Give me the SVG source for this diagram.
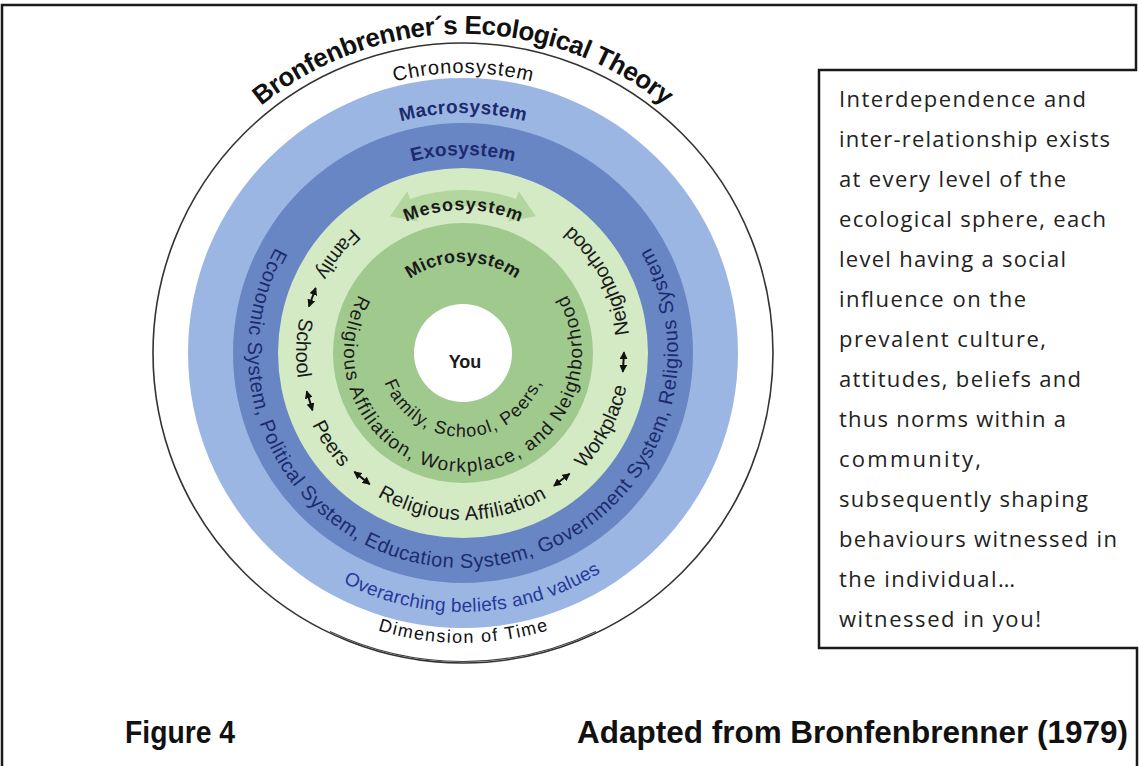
<svg xmlns="http://www.w3.org/2000/svg" width="1139" height="766" viewBox="0 0 1139 766">
<style>
.d{font-family:"Liberation Sans",Arial,sans-serif}
.b{font-weight:bold}
.navy{fill:#1c2b6e}
.blk{fill:#1a1a1a}
.box{font-family:"Open Sans","Noto Sans",sans-serif;font-size:22px;fill:#222}
.foot{font-family:"Liberation Sans",Arial,sans-serif;font-weight:bold;font-size:31px;fill:#111}
.conn{stroke:#111;stroke-width:2;fill:none;marker-start:url(#ah);marker-end:url(#ah)}
</style>
<defs>
<path id="p-title" d="M186.7,193.5 A319,319 0 0 1 739.3,193.5"/>
<path id="p-chrono" d="M220.5,213 A280,280 0 0 1 705.5,213"/>
<path id="p-macro" d="M255.2,233 A240,240 0 0 1 670.8,233"/>
<path id="p-exolbl" d="M291.5,254 A198,198 0 0 1 634.5,254"/>
<path id="p-mesolbl" d="M339.2,281.5 A143,143 0 0 1 586.8,281.5"/>
<path id="p-microlbl" d="M384.2,307.5 A91,91 0 0 1 541.8,307.5"/>
<path id="p-time" d="M211.9,498 A290,290 0 0 0 714.1,498"/>
<path id="p-over" d="M238.7,482.5 A259,259 0 0 0 687.3,482.5"/>
<path id="p-exo" d="M286.9,229.7 A215,215 0 1 0 639.1,229.7"/>
<path id="p-meso" d="M379.5,208.4 A167,167 0 1 0 546.5,208.4"/>
<path id="p-micro1" d="M365.5,284.7 A119,119 0 1 0 560.5,284.7"/>
<path id="p-micro2" d="M380.3,367.6 A84,84 0 0 0 545.7,367.6"/>
<marker id="ah" viewBox="0 0 8 8" refX="7" refY="4" markerWidth="8" markerHeight="8" markerUnits="userSpaceOnUse" orient="auto-start-reverse"><path d="M0,0 L8,4 L0,8 Z" fill="#111"/></marker>
</defs>
<rect width="1139" height="766" fill="#fff"/>
<g id="page-frame" fill="none" stroke="#1a1a1a">
<path d="M2,766 V5 H1136 V70 H819 V648 H1137 V766" stroke-width="2.5"/>
</g>
<g id="chronosystem">
<circle cx="463" cy="353" r="310" fill="#fff" stroke="#333" stroke-width="1.6"/>
<path d="M330,630 A310,310 0 0 0 596,630" fill="none" stroke="#444" stroke-width="1.2" transform="translate(0,1.5)"/>
<text class="d" font-size="20" fill="#111"><textPath href="#p-chrono" startOffset="50%" text-anchor="middle" textLength="139">Chronosystem</textPath></text>
<text class="d" font-size="18" fill="#111"><textPath href="#p-time" startOffset="50%" text-anchor="middle" textLength="173">Dimension of Time</textPath></text>
</g>
<g id="title">
<text class="d b" font-size="26" fill="#111"><textPath href="#p-title" startOffset="50%" text-anchor="middle" textLength="437">Bronfenbrenner´s Ecological Theory</textPath></text>
</g>
<g id="macrosystem">
<circle cx="463" cy="353" r="275" fill="#9cb6e3"/>
<text class="d b navy" font-size="19"><textPath href="#p-macro" startOffset="50%" text-anchor="middle" textLength="126">Macrosystem</textPath></text>
<text class="d" font-size="19" fill="#26399a"><textPath href="#p-over" startOffset="281.4" text-anchor="middle" textLength="270">Overarching beliefs and values</textPath></text>
</g>
<g id="exosystem">
<circle cx="463" cy="353" r="230" fill="#6885c4"/>
<text class="d b navy" font-size="19"><textPath href="#p-exolbl" startOffset="50%" text-anchor="middle" textLength="103">Exosystem</textPath></text>
<text class="d navy" font-size="20"><textPath href="#p-exo" startOffset="50%" text-anchor="middle" textLength="896">Economic System, Political System, Education System, Government System, Religious System</textPath></text>
</g>
<g id="mesosystem">
<circle cx="463" cy="353" r="185" fill="#d3eac4"/>
<path d="M409.9,198.9 A163,163 0 0 1 516.1,198.9 L518.7,191.3 L535.8,216.2 L508.3,221.6 L510.9,214 A147,147 0 0 0 415.1,214 L417.7,221.6 L390.2,216.2 L407.3,191.3 Z" fill="#b2d69e"/>
<text class="d b blk" font-size="18"><textPath href="#p-mesolbl" startOffset="50%" text-anchor="middle" textLength="117">Mesosystem</textPath></text>
<g class="d blk" font-size="20">
<text><textPath href="#p-meso" startOffset="63.2" text-anchor="middle">Family</textPath></text>
<text><textPath href="#p-meso" startOffset="169.6" text-anchor="middle">School</textPath></text>
<text><textPath href="#p-meso" startOffset="274.9" text-anchor="middle">Peers</textPath></text>
<text><textPath href="#p-meso" startOffset="436" text-anchor="middle" textLength="178">Religious Affiliation</textPath></text>
<text><textPath href="#p-meso" startOffset="618.2" text-anchor="middle">Workplace</textPath></text>
<text><textPath href="#p-meso" startOffset="780.9" text-anchor="middle">Neighborhood</textPath></text>
</g>
</g>
<g id="connectors">
<path class="conn" d="M315.7,288 L308.9,306.5"/>
<path class="conn" d="M306.7,391.4 L312.5,410.2"/>
<path class="conn" d="M354.4,471.9 L369.7,484.2"/>
<path class="conn" d="M554,485.8 L569.5,473.8"/>
<path class="conn" d="M622.9,371.8 L624,352.2"/>
</g>
<g id="microsystem">
<circle cx="463" cy="353" r="130" fill="#a0c98e"/>
<text class="d b blk" font-size="18"><textPath href="#p-microlbl" startOffset="50%" text-anchor="middle" textLength="113">Microsystem</textPath></text>
<text class="d blk" font-size="19"><textPath href="#p-micro1" startOffset="50%" text-anchor="middle" textLength="495">Religious Affiliation, Workplace, and Neighborhood</textPath></text>
<text class="d blk" font-size="18"><textPath href="#p-micro2" startOffset="50%" text-anchor="middle" textLength="203">Family, School, Peers,</textPath></text>
</g>
<g id="you">
<circle cx="463" cy="353" r="49" fill="#fff"/>
<text class="d b blk" font-size="18" x="465" y="368" text-anchor="middle">You</text>
</g>
<g id="textbox" class="box">
<text x="839" y="106.7" textLength="247">Interdependence and</text>
<text x="839" y="146.7" textLength="271">inter-relationship exists</text>
<text x="839" y="186.7" textLength="227">at every level of the</text>
<text x="839" y="226.7" textLength="267">ecological sphere, each</text>
<text x="839" y="266.7" textLength="227">level having a social</text>
<text x="839" y="306.7" textLength="187">influence on the</text>
<text x="839" y="346.7" textLength="207">prevalent culture,</text>
<text x="839" y="386.7" textLength="242">attitudes, beliefs and</text>
<text x="839" y="426.7" textLength="227">thus norms within a</text>
<text x="839" y="466.7" textLength="142">community,</text>
<text x="839" y="506.7" textLength="249">subsequently shaping</text>
<text x="839" y="546.7" textLength="278">behaviours witnessed in</text>
<text x="839" y="586.7" textLength="176">the individual…</text>
<text x="839" y="626.7" textLength="202">witnessed in you!</text>
</g>
<g id="footer" class="foot">
<text x="125" y="743" textLength="110" lengthAdjust="spacingAndGlyphs">Figure 4</text>
<text x="577" y="743" textLength="551" lengthAdjust="spacingAndGlyphs">Adapted from Bronfenbrenner (1979)</text>
</g>
</svg>
